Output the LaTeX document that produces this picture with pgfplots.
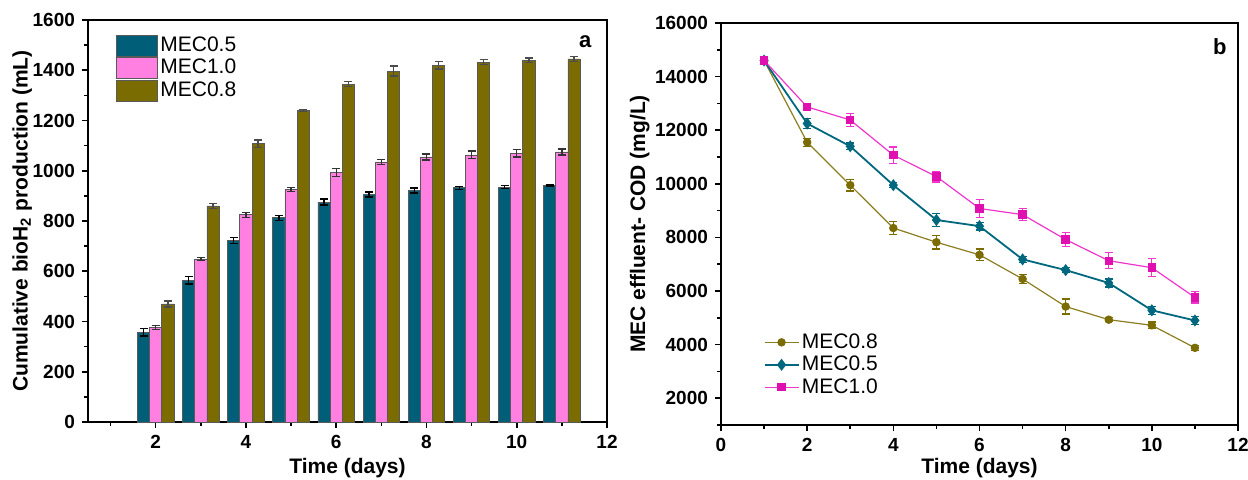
\documentclass[border=0pt]{standalone}
\usepackage{fontspec}
\setmainfont{Liberation Sans}
\usepackage{pgfplots}
\pgfplotsset{compat=1.18}

\definecolor{cteal}{HTML}{005E78}
\definecolor{cpink}{HTML}{FF80E0}
\definecolor{colive}{HTML}{7A6C00}
\definecolor{lolive}{HTML}{8C7E20}
\definecolor{lteal}{HTML}{00687E}
\definecolor{lmag}{HTML}{F035CC}
\definecolor{mmag}{HTML}{E010B0}

\pgfplotsset{
  myaxis/.style={
    scale only axis,
    axis line style={line width=1pt},
    tick align=outside,
    tick pos=left,
    major tick length=3pt,
    minor tick length=2pt,
    every tick/.style={black, line width=0.8pt},
    ticklabel style={font=\bfseries\fontsize{9.5}{11}\selectfont},
    /pgf/number format/assume math mode=true,
    /pgf/number format/1000 sep={},
    scaled y ticks=false,
    label style={font=\bfseries\fontsize{10.5}{12}\selectfont},
  }
}

\begin{document}
\begin{tikzpicture}
\useasboundingbox (0,0) rectangle (624pt,239.5pt);

% ---------------- Left: bars ----------------
\begin{axis}[myaxis,
  at={(44pt,28.5pt)}, anchor=south west,
  width=259.5pt, height=201pt,
  xmin=0.5, xmax=12, ymin=0, ymax=1600,
  xtick={2,4,...,12}, minor xtick={1,3,...,11},
  ytick={0,200,...,1600}, minor ytick={100,300,...,1500},
  xlabel={Time (days)},
  ylabel={Cumulative bioH\textsubscript{2} production (mL)},
  xlabel style={at={(axis description cs:0.5,-0.114)}, anchor=center},
  ylabel style={at={(axis description cs:-0.127,0.5)}, anchor=center},
  legend style={at={(0.042,0.975)}, anchor=north west, draw=none, fill=none,
    font=\fontsize{10.5}{12}\selectfont, row sep=0pt,
    nodes={inner sep=1.2pt}},
  legend cell align=left,
  legend image code/.code={\draw[#1] (0pt,-5.25pt) rectangle (20.5pt,5.25pt);},
  error bars/y dir=both, error bars/y explicit,
]
\addplot[ybar, bar width=0.27, bar shift=0, fill=cteal, draw=gray!70!black, line width=0.4pt,
  error bars/error bar style={black, line width=0.7pt},
  error bars/error mark options={rotate=90, mark size=2pt, line width=0.7pt, black}]
coordinates {(1.73,357)+-(0,15) (2.73,565)+-(0,15) (3.73,722)+-(0,12) (4.73,813)+-(0,10) (5.73,875)+-(0,12)
 (6.73,905)+-(0,10) (7.73,922)+-(0,10) (8.73,932)+-(0,6) (9.73,935)+-(0,6) (10.73,940)+-(0,3)};
\addlegendentry{MEC0.5}
\addplot[ybar, bar width=0.27, bar shift=0, fill=cpink, draw=gray!70!black, line width=0.4pt,
  error bars/error bar style={black!80, line width=0.7pt},
  error bars/error mark options={rotate=90, mark size=2pt, line width=0.7pt, black!80}]
coordinates {(2,377)+-(0,8) (3,648)+-(0,6) (4,825)+-(0,10) (5,925)+-(0,8) (6,993)+-(0,15)
 (7,1035)+-(0,10) (8,1055)+-(0,12) (9,1063)+-(0,15) (10,1070)+-(0,15) (11,1075)+-(0,12)};
\addlegendentry{MEC1.0}
\addplot[ybar, bar width=0.27, bar shift=0, fill=colive, draw=gray!70!black, line width=0.4pt,
  error bars/error bar style={black!70, line width=0.7pt},
  error bars/error mark options={rotate=90, mark size=2pt, line width=0.7pt, black!70}]
coordinates {(2.27,470)+-(0,12) (3.27,860)+-(0,10) (4.27,1108)+-(0,15) (5.27,1240)+-(0,4) (6.27,1345)+-(0,10)
 (7.27,1397)+-(0,20) (8.27,1420)+-(0,15) (9.27,1432)+-(0,10) (10.27,1440)+-(0,8) (11.27,1445)+-(0,10)};
\addlegendentry{MEC0.8}
\node[font=\bfseries\fontsize{11}{13}\selectfont] at (rel axis cs:0.958,0.945) {a};
\end{axis}

% ---------------- Right: lines ----------------
\begin{axis}[myaxis,
  at={(360.5pt,27pt)}, anchor=south west,
  width=258.5pt, height=201pt,
  xmin=0, xmax=12, ymin=1000, ymax=16000,
  xtick={0,2,...,12}, minor xtick={1,3,...,11},
  ytick={2000,4000,...,16000}, minor ytick={1000,3000,...,15000},
  xlabel={Time (days)},
  ylabel={MEC effluent- COD (mg/L)},
  xlabel style={at={(axis description cs:0.5,-0.107)}, anchor=center},
  ylabel style={at={(axis description cs:-0.157,0.5)}, anchor=center},
  legend style={at={(0.07,0.055)}, anchor=south west, draw=none, fill=none,
    font=\fontsize{10.5}{12}\selectfont, row sep=0pt,
    nodes={inner sep=1.2pt}},
  legend cell align=left,
  error bars/y dir=both, error bars/y explicit,
]
\addplot[lolive, line width=0.6pt, mark=*, mark size=1.8pt, mark options={colive, fill=colive},
  error bars/error bar style={colive, line width=0.6pt},
  error bars/error mark options={rotate=90, mark size=2pt, line width=0.6pt, colive}]
coordinates {(1,14600)+-(0,50) (2,11550)+-(0,150) (3,9950)+-(0,220) (4,8350)+-(0,230)
 (5,7820)+-(0,250) (6,7350)+-(0,220) (7,6450)+-(0,180) (8,5420)+-(0,280) (9,4930)+-(0,80)
 (10,4720)+-(0,120) (11,3880)+-(0,100)};
\addlegendentry{MEC0.8}
\addplot[lteal, line width=0.9pt, mark=diamond*, mark size=2.3pt, mark options={lteal, fill=lteal},
  error bars/error bar style={lteal, line width=0.6pt},
  error bars/error mark options={rotate=90, mark size=2pt, line width=0.6pt, lteal}]
coordinates {(1,14600)+-(0,50) (2,12250)+-(0,180) (3,11400)+-(0,120) (4,9950)+-(0,100)
 (5,8650)+-(0,230) (6,8420)+-(0,140) (7,7180)+-(0,120) (8,6780)+-(0,100) (9,6300)+-(0,150)
 (10,5280)+-(0,150) (11,4900)+-(0,150)};
\addlegendentry{MEC0.5}
\addplot[lmag, line width=0.6pt, mark=square*, mark size=1.8pt, mark options={mmag, fill=mmag},
  error bars/error bar style={lmag, line width=0.6pt},
  error bars/error mark options={rotate=90, mark size=2pt, line width=0.6pt, lmag}]
coordinates {(1,14600)+-(0,50) (2,12870)+-(0,100) (3,12380)+-(0,230) (4,11070)+-(0,300)
 (5,10270)+-(0,200) (6,9080)+-(0,330) (7,8850)+-(0,230) (8,7920)+-(0,270) (9,7130)+-(0,300)
 (10,6870)+-(0,330) (11,5760)+-(0,210)};
\addlegendentry{MEC1.0}
\node[font=\bfseries\fontsize{11}{13}\selectfont] at (rel axis cs:0.965,0.94) {b};
\end{axis}
\end{tikzpicture}
\end{document}
